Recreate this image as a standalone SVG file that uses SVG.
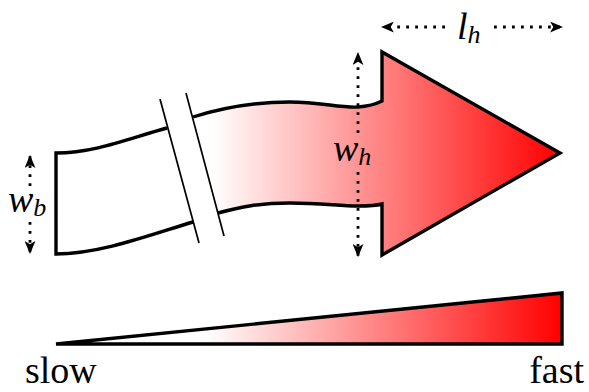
<svg xmlns="http://www.w3.org/2000/svg" width="589" height="392" viewBox="0 0 589 392">
<defs>
<linearGradient id="gBody" gradientUnits="userSpaceOnUse" x1="212" y1="0" x2="560" y2="0">
<stop offset="0" stop-color="#ffffff"/>
<stop offset="1" stop-color="#ff0000"/>
</linearGradient>
<linearGradient id="gBar" gradientUnits="userSpaceOnUse" x1="205" y1="0" x2="562" y2="0">
<stop offset="0" stop-color="#ffffff"/>
<stop offset="1" stop-color="#ff0000"/>
</linearGradient>
<marker id="ah" viewBox="0 0 12 10" refX="11" refY="5" markerWidth="13" markerHeight="11" markerUnits="userSpaceOnUse" orient="auto-start-reverse">
<path d="M0,0 L12,5 L0,10 L3,5 Z" fill="#000"/>
</marker>
</defs>
<style>
.outline{stroke:#000;stroke-width:3.4;stroke-linejoin:miter;stroke-linecap:butt}
.brk{stroke:#000;stroke-width:1.7;fill:none}
.dim{stroke:#000;stroke-width:2.8;stroke-dasharray:2.8 6.2;fill:none}
.math{font-family:"Liberation Serif","Times New Roman",serif;font-style:italic;fill:#000}
.lbl{font-family:"Liberation Serif","Times New Roman",serif;fill:#000}
</style>
<g id="body-tail">
<path class="outline" fill="#ffffff" d="M167,128 C130,138 95,153 56,153 L56,254 C100,254 150,235 193,222"/>
</g>
<g id="body-head">
<path class="outline" fill="url(#gBody)" d="M193,117 C225,107 255,102 290,102 C320,102 340,108 358,107 C372,106 378,103 382,101 L382,52 L560,153 L382,255 L382,204 C375,206 368,206 358,206 C340,206 320,203 290,203 C260,203 240,207 218,213"/>
</g>
<g id="break">
<line class="brk" x1="160" y1="99" x2="199" y2="243"/>
<line class="brk" x1="186" y1="93" x2="224" y2="236"/>
</g>
<g id="connectors">
<path class="dim" d="M30,186 L30,156" marker-end="url(#ah)"/>
<path class="dim" d="M30,222 L30,253" marker-end="url(#ah)"/>
<path class="dim" d="M358,133 L358,53" marker-end="url(#ah)"/>
<path class="dim" d="M358,172 L358,256" marker-end="url(#ah)"/>
<path class="dim" d="M445,27 L382,27" marker-end="url(#ah)"/>
<path class="dim" d="M494,27 L562,27" marker-end="url(#ah)"/>
</g>
<g id="labels">
<text class="math" x="8" y="212" style="font-size:38px">w<tspan style="font-size:26px" dy="4">b</tspan></text>
<text class="math" x="333" y="161" style="font-size:38px">w<tspan style="font-size:26px" dy="4">h</tspan></text>
<text class="math" x="457" y="39" style="font-size:38px">l<tspan style="font-size:26px" dy="4">h</tspan></text>
</g>
<g id="speed-bar">
<polygon class="outline" fill="url(#gBar)" points="56,344 562,293 562,344"/>
<text class="lbl" x="25" y="383" style="font-size:38px">slow</text>
<text class="lbl" x="584" y="383" text-anchor="end" style="font-size:38px">fast</text>
</g>
</svg>
